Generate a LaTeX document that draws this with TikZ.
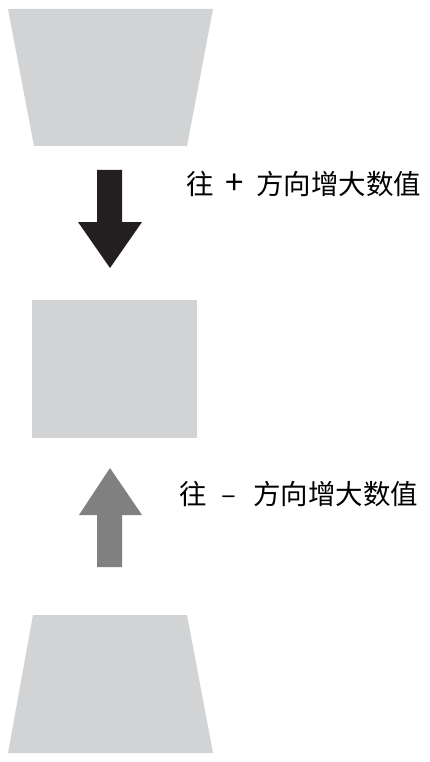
\documentclass[tikz,border=0pt]{standalone}
\usepackage{fontspec}
\newfontfamily\cjk{Noto Sans CJK SC}
\definecolor{plategray}{HTML}{D1D3D4}
\definecolor{darkarrow}{HTML}{231F20}
\definecolor{grayarrow}{HTML}{808080}
\begin{document}
\begin{tikzpicture}[x=1pt,y=-1pt,
	plate/.style={fill=plategray},
	hint/.style={font=\cjk\fontsize{27.5}{32}\selectfont, anchor=base west, inner sep=0pt}]
	\useasboundingbox (0,0) rectangle (429,762);
	% the three plates
	\fill[plate] (8,9) -- (213,9) -- (187,146) -- (34,146) -- cycle;
	\fill[plate] (32,300) rectangle (197,438);
	\fill[plate] (33,615) -- (187,615) -- (213,753) -- (8,753) -- cycle;
	% block arrows
	\fill[darkarrow] (97,170) -- (122,170) -- (122,222) -- (142,222) -- (110,268) -- (78,222) -- (97,222) -- cycle;
	\fill[grayarrow] (110,468) -- (142,515) -- (122,515) -- (122,567) -- (97,567) -- (97,515) -- (79,515) -- cycle;
	% texts
	\node[hint] (plus) at (186,194.5) {往\hspace{12pt}{\fontsize{33}{32}\selectfont+}\hspace{12pt}方向增大数值};
	\node[hint] (minus) at (179,504) {往\hspace{15pt}–\hspace{17pt}方向增大数值};
\end{tikzpicture}
\end{document}
